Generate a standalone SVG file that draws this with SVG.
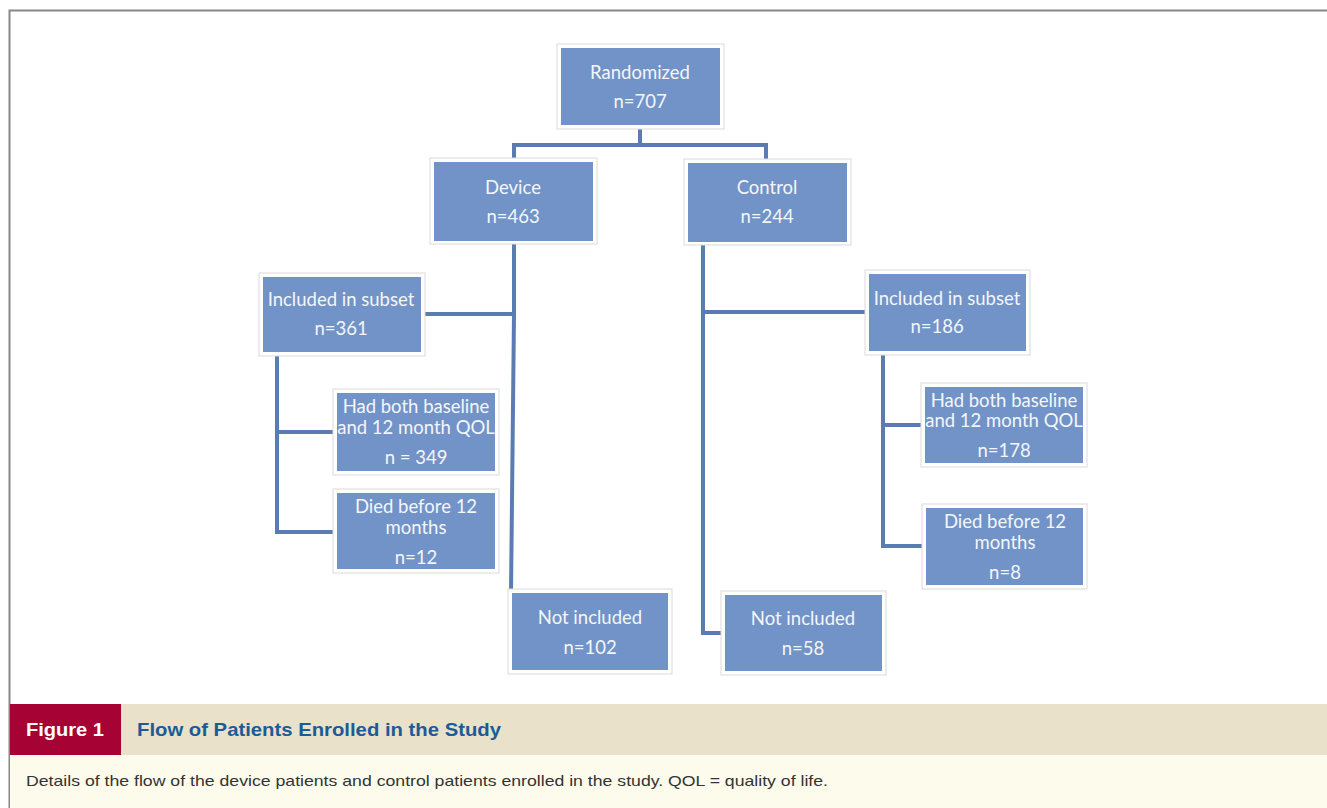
<svg xmlns="http://www.w3.org/2000/svg" width="1327" height="808" viewBox="0 0 1327 808">
<style>
.o{fill:#fff;stroke:#d9d9d9;stroke-width:1}
.b{fill:#7193c7}
.t{font-family:Lato,"Open Sans",sans-serif;font-size:18.5px;fill:#f4f6fa;text-anchor:middle}
.c{fill:none;stroke:#5a7cb2;stroke-width:4}
</style>
<rect x="0" y="0" width="1327" height="808" fill="#fff"/>
<path d="M9.5 808V10.5H1327" fill="none" stroke="#888" stroke-width="2"/>
<g id="connectors">
<path class="c" d="M640 125V145M514 162V145H766V163"/>
<path class="c" d="M514 241V314H421M514 314L511 593"/>
<path class="c" d="M277 352V532H337M277 432H337"/>
<path class="c" d="M703 241V633H725M703 312H869"/>
<path class="c" d="M883 351V546H926M883 425H925"/>
</g>
<g id="randomized"><rect class="o" x="557" y="44" width="167" height="85"/><rect class="b" x="561" y="48" width="159" height="77"/><text class="t" x="640" y="79">Randomized</text><text class="t" x="640" y="108">n=707</text></g>
<g id="device"><rect class="o" x="430" y="158" width="167" height="86"/><rect class="b" x="434" y="162" width="159" height="79"/><text class="t" x="513" y="194">Device</text><text class="t" x="513" y="223">n=463</text></g>
<g id="control"><rect class="o" x="684" y="159" width="167" height="86"/><rect class="b" x="688" y="163" width="159" height="79"/><text class="t" x="767" y="194">Control</text><text class="t" x="767" y="223">n=244</text></g>
<g id="incl-device"><rect class="o" x="259" y="273" width="166" height="83"/><rect class="b" x="263" y="277" width="158" height="75"/><text class="t" x="341" y="306">Included in subset</text><text class="t" x="341" y="335">n=361</text></g>
<g id="both-device"><rect class="o" x="333" y="389" width="166" height="86"/><rect class="b" x="337" y="393" width="158" height="78"/><text class="t" x="416" y="413">Had both baseline</text><text class="t" x="416" y="434">and 12 month QOL</text><text class="t" x="416" y="464">n = 349</text></g>
<g id="died-device"><rect class="o" x="333" y="489" width="166" height="84"/><rect class="b" x="337" y="493" width="158" height="76"/><text class="t" x="416" y="513">Died before 12</text><text class="t" x="416" y="534">months</text><text class="t" x="416" y="564">n=12</text></g>
<g id="notincl-device"><rect class="o" x="508" y="589" width="164" height="85"/><rect class="b" x="512" y="593" width="156" height="77"/><text class="t" x="590" y="624">Not included</text><text class="t" x="590" y="654">n=102</text></g>
<g id="incl-control"><rect class="o" x="865" y="270" width="165" height="85"/><rect class="b" x="869" y="274" width="157" height="77"/><text class="t" x="947" y="305">Included in subset</text><text class="t" x="937" y="333">n=186</text></g>
<g id="both-control"><rect class="o" x="921" y="383" width="166" height="84"/><rect class="b" x="925" y="387" width="158" height="76"/><text class="t" x="1004" y="407">Had both baseline</text><text class="t" x="1004" y="427">and 12 month QOL</text><text class="t" x="1004" y="457">n=178</text></g>
<g id="died-control"><rect class="o" x="922" y="504" width="165" height="85"/><rect class="b" x="926" y="508" width="157" height="77"/><text class="t" x="1005" y="528">Died before 12</text><text class="t" x="1005" y="549">months</text><text class="t" x="1005" y="579">n=8</text></g>
<g id="notincl-control"><rect class="o" x="721" y="591" width="165" height="84"/><rect class="b" x="725" y="595" width="157" height="76"/><text class="t" x="803" y="625">Not included</text><text class="t" x="803" y="655">n=58</text></g>
<g id="caption">
<rect x="121" y="704" width="1206" height="51" fill="#e9e1ca"/>
<rect x="10" y="704" width="111" height="51" fill="#a60233"/>
<rect x="10" y="755" width="1317" height="53" fill="#fdfbec"/>
<text x="26" y="736" font-family="Liberation Sans,Arial,sans-serif" font-weight="bold" font-size="19" fill="#fff" textLength="78" lengthAdjust="spacingAndGlyphs">Figure 1</text>
<text x="137" y="736" font-family="Liberation Sans,Arial,sans-serif" font-weight="bold" font-size="19" fill="#1b5b97" textLength="364" lengthAdjust="spacingAndGlyphs">Flow of Patients Enrolled in the Study</text>
<text x="26" y="786" font-family="Liberation Sans,Arial,sans-serif" font-size="15" fill="#333" textLength="802" lengthAdjust="spacingAndGlyphs">Details of the flow of the device patients and control patients enrolled in the study. QOL = quality of life.</text>
</g>
</svg>
